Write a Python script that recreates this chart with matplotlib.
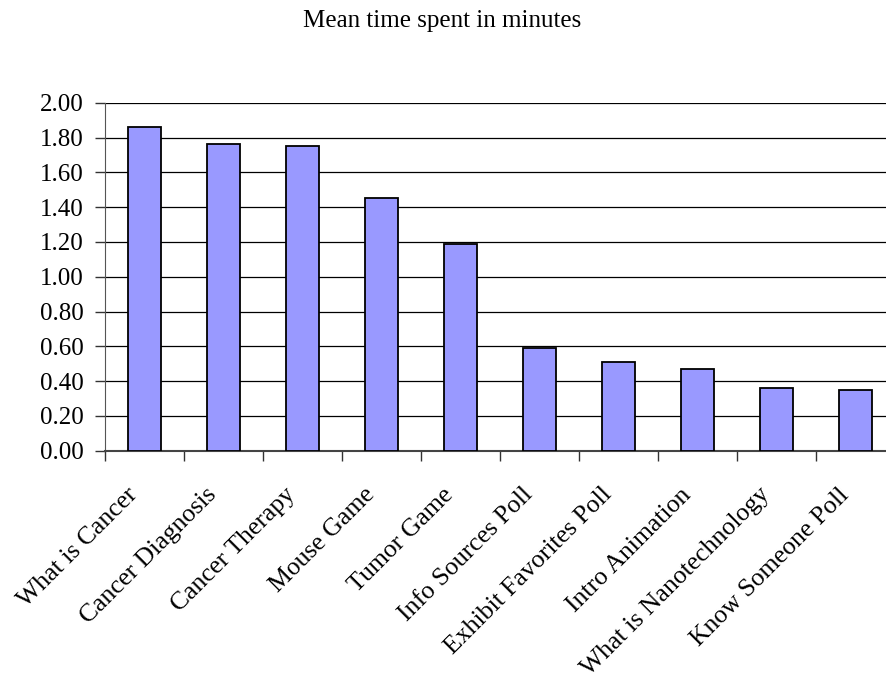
import numpy as np
import matplotlib
matplotlib.use('Agg')
import matplotlib.pyplot as plt
from matplotlib.transforms import ScaledTranslation

# values
sections = ['What is Cancer', 'Cancer Diagnosis', 'Cancer Therapy', 'Mouse Game',
            'Tumor Game', 'Info Sources Poll', 'Exhibit Favorites Poll',
            'Intro Animation', 'What is Nanotechnology', 'Know Someone Poll']
mean_minutes = [1.86, 1.76, 1.75, 1.45, 1.19, 0.59, 0.51, 0.47, 0.36, 0.35]
y_ticks = [0.0, 0.2, 0.4, 0.6, 0.8, 1.0, 1.2, 1.4, 1.6, 1.8, 2.0]

plt.rcParams['font.family'] = ['Liberation Serif', 'DejaVu Serif']

fig = plt.figure(figsize=(8.86, 6.73), dpi=100)
ax = fig.add_axes([0.1185, 0.3303, 0.8916, 0.5171])

x = np.arange(len(sections))
ax.bar(x, mean_minutes, width=0.42, color='#9999FF', edgecolor='black', linewidth=1.3, zorder=3)

ax.set_xlim(-0.5, len(sections) - 0.5)
ax.set_ylim(0, 2.0)
ax.set_yticks(y_ticks)
ax.set_yticklabels(['%.2f' % v for v in y_ticks], fontsize=18)
ax.yaxis.grid(True, color='black', linewidth=0.9, zorder=0)
ax.set_axisbelow(True)

# ticks sit between the categories, labels under the bars
ax.set_xticks(x - 0.5)
ax.set_xticklabels([])
ax.tick_params(axis='x', which='major', direction='out', length=7, width=1, color='#333333')
ax.tick_params(axis='y', direction='out', length=7, width=1, color='#333333', pad=8.5)

# slanted category labels, top-right corner just left of each bar centre
offset = ScaledTranslation(-18 / 100, -33 / 100, fig.dpi_scale_trans)
for xi, name in zip(x, sections):
    ax.text(xi, 0, name, transform=ax.get_xaxis_transform() + offset,
            rotation=45, rotation_mode='anchor', ha='right', va='top', fontsize=18.5)

for side in ['top', 'right']:
    ax.spines[side].set_visible(False)
ax.spines['left'].set_color('#555555')
ax.spines['bottom'].set_color('#444444')
ax.spines['bottom'].set_linewidth(1.5)

fig.text(0.4995, 0.969, 'Mean time spent in minutes', ha='center', va='center', fontsize=18)

fig.savefig('out.png', dpi=100)
